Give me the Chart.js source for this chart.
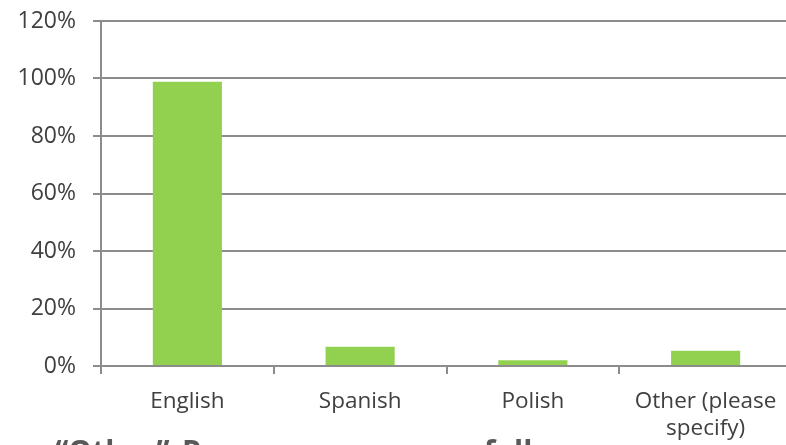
<!DOCTYPE html>
<html lang="en">
<head>
<meta charset="UTF-8">
<title>Language</title>
<style>
  html, body { margin: 0; padding: 0; background: #fff; overflow: hidden; }
  #wrap { position: relative; width: 792px; height: 445px; }
  #note {
    position: absolute; left: 55px; top: 436px; margin: 0;
    font-family: "Open Sans", sans-serif; font-weight: 700; font-size: 30px;
    color: #595959; white-space: nowrap; line-height: 1; word-spacing: 4.5px;
  }
</style>
</head>
<body>
<script src="https://cdn.jsdelivr.net/npm/chart.js@4"></script>

<div id="wrap">
  <canvas id="chart" width="792" height="445"></canvas>
  <p id="note">“Other” Responses were as follows:</p>
</div>

<script>
  // data
  const languages = ['English', 'Spanish', 'Polish', ['Other (please', 'specify)']]
  const shares = [98.9, 6.7, 2.0, 5.3]
  const yTicks = [0, 20, 40, 60, 80, 100, 120]

  const gray = '#8c8c8c'
  const ctx = document.getElementById('chart').getContext('2d')

  new Chart(ctx, {
    type: 'bar',
    data: {
      labels: languages,
      datasets: [{
        data: shares,
        backgroundColor: '#92d050',
        barPercentage: 0.4,
        categoryPercentage: 1
      }]
    },
    options: {
      responsive: false,
      animation: false,
      layout: { padding: 0 },
      plugins: { legend: { display: false }, tooltip: { enabled: false } },
      scales: {
        x: {
          grid: { drawOnChartArea: false, drawTicks: true, tickLength: 8, color: gray, lineWidth: 2 },
          border: { color: gray, width: 2 },
          ticks: {
            color: '#404040', padding: 14,
            font: { family: 'Open Sans', size: 22.5, lineHeight: 1.2 },
            maxRotation: 0
          },
          afterFit: axis => { axis.height = 79 }
        },
        y: {
          min: 0, max: 120,
          afterBuildTicks: axis => { axis.ticks = yTicks.map(v => ({ value: v })) },
          grid: { color: gray, lineWidth: 2, tickLength: 8 },
          border: { color: gray, width: 2 },
          ticks: {
            color: '#404040', padding: 17,
            font: { family: 'Open Sans', size: 23 },
            callback: v => v + '%'
          },
          afterFit: axis => {
            axis.width = 101
            axis.paddingTop = 21
            axis.paddingBottom = 0
          }
        }
      }
    }
  })
</script>
</body>
</html>
